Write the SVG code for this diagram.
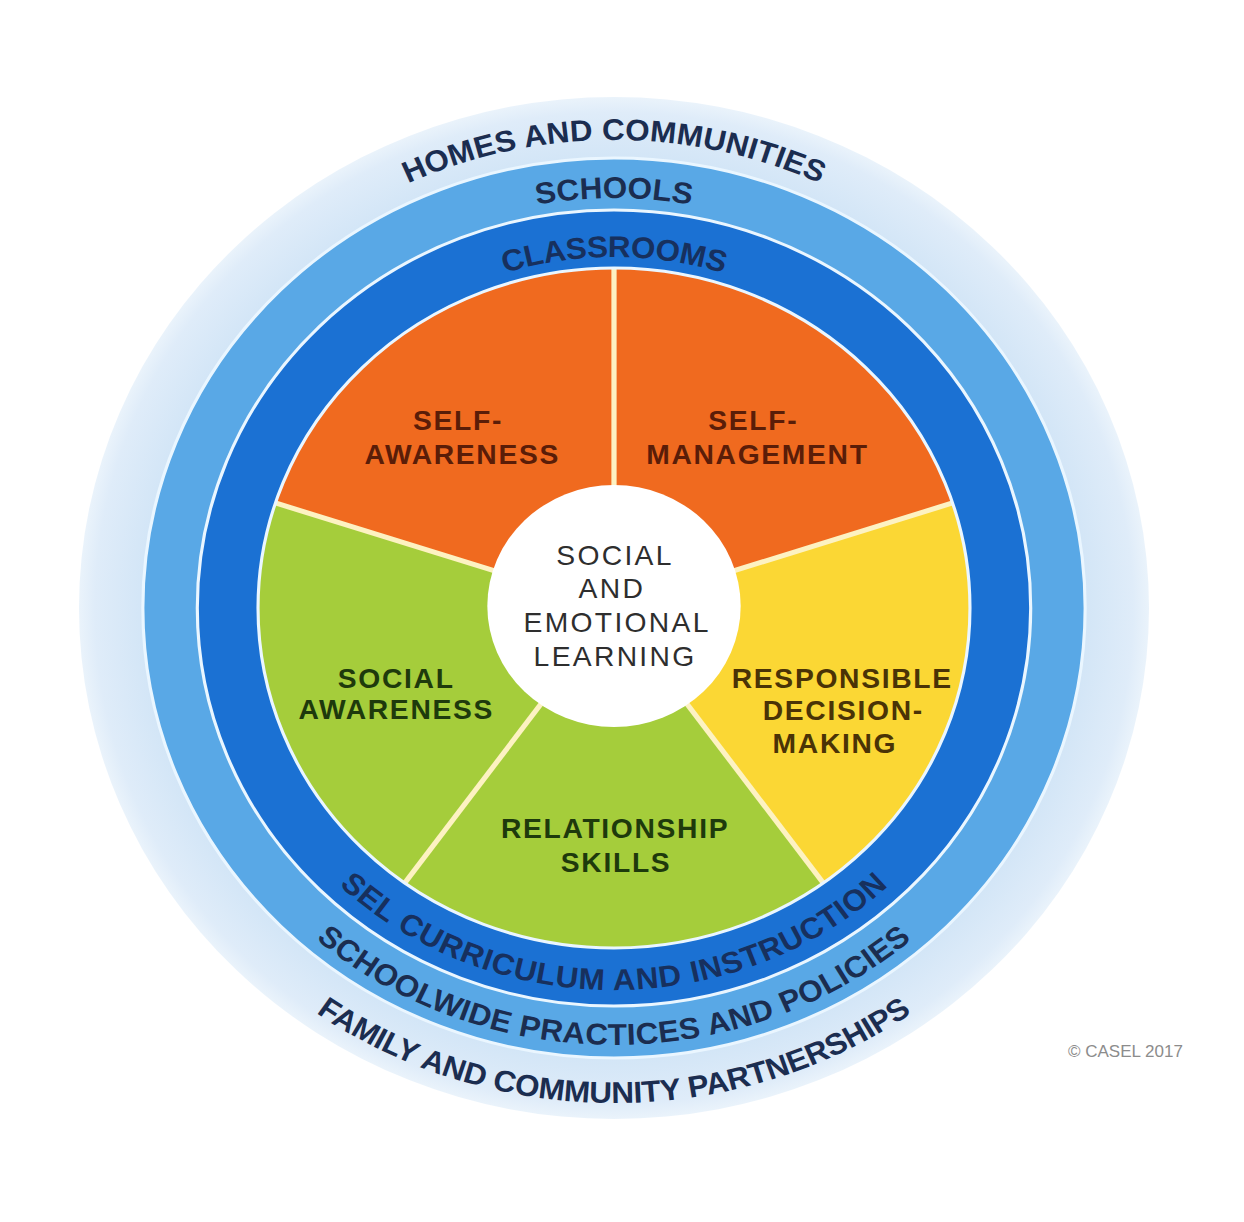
<svg xmlns="http://www.w3.org/2000/svg" width="1244" height="1222" viewBox="0 0 1244 1222">
<defs>
<radialGradient id="gLight" cx="0.5" cy="0.5" r="0.5">
<stop offset="0.86" stop-color="#d0e4f6"/>
<stop offset="0.97" stop-color="#dfecf9"/>
<stop offset="1" stop-color="#eaf3fb"/>
</radialGradient>
<path id="arcHomes" d="M-468,0 A468,468 0 0 1 468,0"/>
<path id="arcSchools" d="M-410,0 A410,410 0 0 1 410,0"/>
<path id="arcClass" d="M-351,0 A351,351 0 0 1 351,0"/>
<path id="arcSel" d="M-382,0 A382,382 0 0 0 382,0"/>
<path id="arcSchoolwide" d="M-437,0 A437,437 0 0 0 437,0"/>
<path id="arcFamily" d="M-495,0 A495,495 0 0 0 495,0"/>
</defs>
<style>
.ring{font-family:"Liberation Sans",Arial,sans-serif;font-weight:bold;font-size:30px;fill:#1b2d50;text-anchor:middle}
.lbl{font-family:"Liberation Sans",Arial,sans-serif;font-weight:bold;font-size:27px;letter-spacing:1.6px;text-anchor:middle}
.ctr{font-family:"Liberation Sans",Arial,sans-serif;font-size:27px;letter-spacing:2.2px;text-anchor:middle;fill:#2e2e2e}
.orangeT{fill:#5a1d08}
.greenT{fill:#1e3a0c}
.yellowT{fill:#4a3306}
.div{stroke:#fdf2c2;stroke-width:5;fill:none}
.sep{fill:none;stroke:#eaf6ff;stroke-width:3}
</style>
<rect width="1244" height="1222" fill="#ffffff"/>
<g transform="translate(614,608) scale(1.047,1)">
<g id="ring-homes">
<circle r="511" fill="url(#gLight)"/>
<text class="ring" style="letter-spacing:0.1px"><textPath href="#arcHomes" startOffset="50%">HOMES AND COMMUNITIES</textPath></text>
<text class="ring" style="letter-spacing:-0.2px"><textPath href="#arcFamily" startOffset="50%">FAMILY AND COMMUNITY PARTNERSHIPS</textPath></text>
</g>
<g id="ring-schools">
<circle r="450" fill="#59a8e6"/>
<circle r="450" class="sep"/>
<text class="ring"><textPath href="#arcSchools" startOffset="50%">SCHOOLS</textPath></text>
<text class="ring" style="letter-spacing:0.4px"><textPath href="#arcSchoolwide" startOffset="50%">SCHOOLWIDE PRACTICES AND POLICIES</textPath></text>
</g>
<g id="ring-classrooms">
<circle r="398" fill="#1b71d3"/>
<circle r="398" class="sep"/>
<text class="ring" style="fill:#17305e;letter-spacing:-0.3px"><textPath href="#arcClass" startOffset="50%">CLASSROOMS</textPath></text>
<text class="ring" style="fill:#17305e;letter-spacing:0.8px"><textPath href="#arcSel" startOffset="50%">SEL CURRICULUM AND INSTRUCTION</textPath></text>
</g>
<g id="self-awareness">
<path d="M0,0 L-323.36,-105.07 A340,340 0 0 1 0,-340 Z" fill="#f06a1f"/>
</g>
<g id="self-management">
<path d="M0,0 L0,-340 A340,340 0 0 1 323.36,-105.07 Z" fill="#f06a1f"/>
</g>
<g id="responsible-decision-making">
<path d="M0,0 L323.36,-105.07 A340,340 0 0 1 199.85,275.07 Z" fill="#fbd734"/>
</g>
<g id="relationship-skills">
<path d="M0,0 L199.85,275.07 A340,340 0 0 1 -199.85,275.07 Z" fill="#a5cd3b"/>
</g>
<g id="social-awareness">
<path d="M0,0 L-199.85,275.07 A340,340 0 0 1 -323.36,-105.07 Z" fill="#a5cd3b"/>
</g>
<g id="dividers">
<line class="div" x1="0" y1="0" x2="0" y2="-340"/>
<line class="div" x1="0" y1="0" x2="323.36" y2="-105.07"/>
<line class="div" x1="0" y1="0" x2="199.85" y2="275.07"/>
<line class="div" x1="0" y1="0" x2="-199.85" y2="275.07"/>
<line class="div" x1="0" y1="0" x2="-323.36" y2="-105.07"/>
<circle r="340" class="sep"/>
</g>
<g id="labels">
<text class="lbl orangeT" x="-149" y="-178">SELF-</text>
<text class="lbl orangeT" x="-145" y="-144">AWARENESS</text>
<text class="lbl orangeT" x="133" y="-178">SELF-</text>
<text class="lbl orangeT" x="137" y="-144">MANAGEMENT</text>
<text class="lbl greenT" x="-208" y="80">SOCIAL</text>
<text class="lbl greenT" x="-208" y="111">AWARENESS</text>
<text class="lbl yellowT" x="218" y="80">RESPONSIBLE</text>
<text class="lbl yellowT" x="219" y="112">DECISION-</text>
<text class="lbl yellowT" x="211" y="145">MAKING</text>
<text class="lbl greenT" x="1" y="230">RELATIONSHIP</text>
<text class="lbl greenT" x="2" y="264">SKILLS</text>
</g>
<g id="sel-center">
<circle cx="0" cy="-2" r="121" fill="#ffffff"/>
<text class="ctr" x="1" y="-43">SOCIAL</text>
<text class="ctr" x="-2" y="-10">AND</text>
<text class="ctr" x="3" y="24">EMOTIONAL</text>
<text class="ctr" x="1" y="58">LEARNING</text>
</g>
</g>
<text x="1068" y="1057" style="font-family:'Liberation Sans',Arial,sans-serif;font-size:17px;fill:#8c8c8c">© CASEL 2017</text>
</svg>
